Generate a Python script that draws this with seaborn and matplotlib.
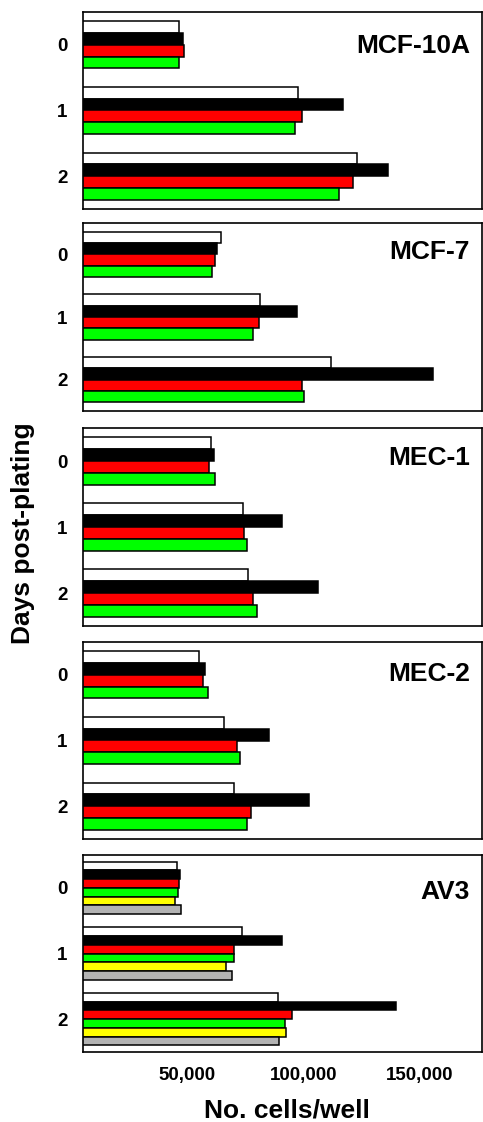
import numpy as np
import pandas as pd
import matplotlib
matplotlib.use('Agg')
import matplotlib.pyplot as plt
import seaborn as sns

# days post-plating (categories on the y axis)
days = ['0', '1', '2']

# bar series, one list per treatment, values for day 0, 1, 2
conditions = ['white', 'black', 'red', 'green', 'yellow', 'gray']
bar_colors = {'white': '#ffffff', 'black': '#000000', 'red': '#ff0000',
              'green': '#00ff00', 'yellow': '#ffff00', 'gray': '#b3b3b3'}

mcf10a_white = [46600, 97600, 123100]
mcf10a_black = [48200, 116800, 136100]
mcf10a_red = [48700, 99200, 121400]
mcf10a_green = [46600, 96400, 115400]

mcf7_white = [64600, 81300, 111800]
mcf7_black = [62900, 97100, 155500]
mcf7_red = [62200, 80900, 99200]
mcf7_green = [60900, 78200, 100100]

mec1_white = [60200, 73900, 76300]
mec1_black = [61600, 90800, 106100]
mec1_red = [59300, 74600, 78200]
mec1_green = [62200, 75900, 80100]

mec2_white = [55200, 65800, 70200]
mec2_black = [57600, 85200, 102400]
mec2_red = [56700, 71500, 77600]
mec2_green = [58900, 72800, 75900]

av3_white = [45600, 73600, 88900]
av3_black = [47000, 90800, 139800]
av3_red = [46700, 70200, 95200]
av3_green = [46300, 70200, 92100]
av3_yellow = [44700, 66900, 92500]
av3_gray = [47300, 69500, 89600]

panel_names = ['MCF-10A', 'MCF-7', 'MEC-1', 'MEC-2', 'AV3']
panel_series = [
    [mcf10a_white, mcf10a_black, mcf10a_red, mcf10a_green],
    [mcf7_white, mcf7_black, mcf7_red, mcf7_green],
    [mec1_white, mec1_black, mec1_red, mec1_green],
    [mec2_white, mec2_black, mec2_red, mec2_green],
    [av3_white, av3_black, av3_red, av3_green, av3_yellow, av3_gray],
]

x_ticks = [50000, 100000, 150000]

sns.set_style('white')
plt.rcParams['font.family'] = ['Liberation Sans', 'DejaVu Sans']
plt.rcParams['font.weight'] = 'bold'
for key in ['text.color', 'axes.labelcolor', 'xtick.color', 'ytick.color', 'axes.edgecolor']:
    plt.rcParams[key] = 'black'

W, H = 483, 1122
fig = plt.figure(figsize=(W / 100, H / 100), dpi=100)

# panel frames in pixels (top, bottom)
frames = [(12, 209), (223, 411), (428, 626), (642, 839), (855, 1052)]
title_y = [0.79, 0.807, 0.813, 0.80, 0.775]
left_px, right_px = 83, 482

for i, (name, series) in enumerate(zip(panel_names, panel_series)):
    top, bot = frames[i]
    ax = fig.add_axes([left_px / W, (H - bot) / H,
                       (right_px - left_px) / W, (bot - top) / H])
    conds = conditions[:len(series)]
    rows = []
    for cond, vals in zip(conds, series):
        for d, v in zip(days, vals):
            rows.append({'day': d, 'cells': v, 'cond': cond})
    df = pd.DataFrame(rows)
    sns.barplot(data=df, x='cells', y='day', hue='cond', order=days,
                hue_order=conds, palette=bar_colors, orient='h',
                saturation=1, edgecolor='black', linewidth=1.1, errorbar=None,
                width=0.8 if len(conds) > 4 else 0.72, legend=False, ax=ax)
    ax.set_xlim(5400, 176600)
    ax.set_ylim(2.5, -0.5)
    ax.set_xlabel('')
    ax.set_ylabel('')
    for s in ax.spines.values():
        s.set_linewidth(1.2)
        s.set_color('black')
    ax.tick_params(length=0, labelsize=13.5, pad=11, colors='black')
    for lab in ax.get_yticklabels():
        lab.set_fontweight('bold')
    if i == len(panel_names) - 1:
        ax.set_xticks(x_ticks)
        ax.set_xticklabels([f'{t:,}' for t in x_ticks], fontweight='bold')
    else:
        ax.set_xticks([])
    ax.text(0.97, title_y[i], name, transform=ax.transAxes, ha='right',
            va='baseline', fontsize=19, fontweight='bold', color='black')

fig.text(287 / W, 4 / H, 'No. cells/well', ha='center', va='baseline',
         fontsize=19, fontweight='bold', color='black')
fig.text(23.5 / W, (H - 533) / H, 'Days post-plating', rotation=90,
         ha='center', va='center', fontsize=19, fontweight='bold', color='black')

fig.savefig('out.png', dpi=100)
